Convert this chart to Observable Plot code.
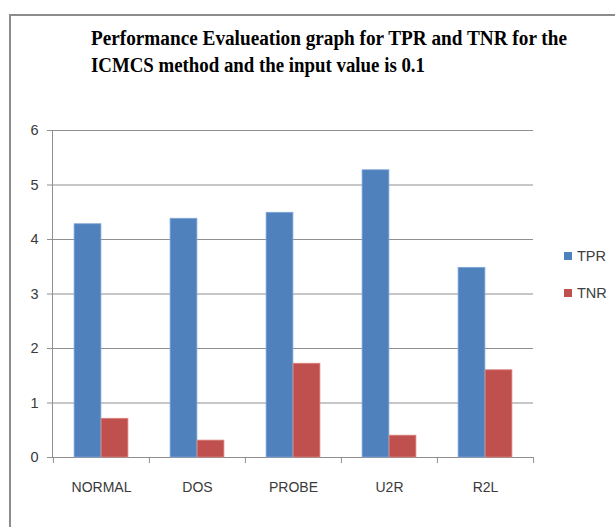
<!DOCTYPE html>
<html>
<head>
<meta charset="utf-8">
<script src="https://cdn.jsdelivr.net/npm/d3@7"></script>
<script src="https://cdn.jsdelivr.net/npm/@observablehq/plot@0.6"></script>
<style>
  html, body { margin: 0; padding: 0; background: #fff; }
  #wrap { position: relative; width: 615px; height: 527px; overflow: hidden; }
  #frame { position: absolute; left: 9px; top: 14px; width: 700px; height: 600px; border: 2px solid #8c8c8c; box-sizing: border-box; }
  #title { position: absolute; left: 91px; top: 25px; font: bold 20.5px "Liberation Serif", "Times New Roman", serif; line-height: 27px; color: #000; white-space: nowrap; }
  #title div { transform-origin: 0 0; width: max-content; }
  #legend { position: absolute; left: 564px; top: 246px; font: 14.5px "Liberation Sans", Arial, sans-serif; color: #404040; }
  #legend div { display: flex; align-items: center; height: 20px; margin-bottom: 17px; }
  #legend span.sw { display: inline-block; width: 8px; height: 8px; margin-right: 5px; }
  #chart { position: absolute; left: 0; top: 0; }
</style>
</head>
<body>
<div id="wrap">
  <div id="frame"></div>
  <div id="chart"></div>
  <div id="title"><div id="t1">Performance Evalueation graph for TPR and TNR for the</div><div id="t2">ICMCS method and the input value is 0.1</div></div>
  <div id="legend"></div>
</div>
<script>
const categories = ["NORMAL", "DOS", "PROBE", "U2R", "R2L"];
const tpr = [4.28, 4.38, 4.49, 5.27, 3.48];
const tnr = [0.71, 0.31, 1.72, 0.40, 1.60];
const seriesNames = ["TPR", "TNR"];
const seriesColors = ["#4F81BD", "#C0504D"];
const yTicks = [0, 1, 2, 3, 4, 5, 6];

const W = 615, H = 527;
const mL = 52, mR = 82, mT = 130, mB = 70;
const band = (W - mL - mR) / categories.length;
const barW = 27;
const outer = (band - 2 * barW) / 2;

const rowsTPR = categories.map((c, i) => ({category: c, value: tpr[i]}));
const rowsTNR = categories.map((c, i) => ({category: c, value: tnr[i]}));
const lastCat = [categories[categories.length - 1]];

const plot = Plot.plot({
  width: W, height: H,
  marginLeft: mL, marginRight: mR, marginTop: mT, marginBottom: mB,
  style: {background: "transparent", fontFamily: "'Liberation Sans', Arial, sans-serif"},
  x: {domain: categories, padding: 0, label: null},
  y: {domain: [0, 6], label: null},
  marks: [
    Plot.ruleY(yTicks, {y: d => d, stroke: "#8f8f8f", strokeWidth: 1}),
    Plot.frame({anchor: "left", stroke: "#8f8f8f", strokeWidth: 1}),
    Plot.barY(rowsTPR, {x: "category", y: "value", fill: seriesColors[0], stroke: "#7fa6d6", strokeWidth: 0.8, insetLeft: outer, insetRight: band - outer - barW}),
    Plot.barY(rowsTNR, {x: "category", y: "value", fill: seriesColors[1], stroke: "#d9827f", strokeWidth: 0.8, insetLeft: outer + barW, insetRight: outer}),
    Plot.ruleX(categories, {x: d => d, y1: 0, y2: 0, insetBottom: -6, dx: -band / 2, stroke: "#8f8f8f"}),
    Plot.ruleX(lastCat, {x: d => d, y1: 0, y2: 0, insetBottom: -6, dx: band / 2, stroke: "#8f8f8f"}),
    Plot.axisY({ticks: yTicks, tickSize: 5, tickPadding: 9, stroke: "#8f8f8f", fill: "#3a3a3a", fontSize: 14.5, tickFormat: d => String(d), label: null}),
    Plot.axisX({tickSize: 0, tickPadding: 25, fill: "#3a3a3a", fontSize: 14, label: null})
  ]
});
document.getElementById("chart").appendChild(plot);

// fit each title line to the reference widths
[["t1", 476], ["t2", 334]].forEach(([id, target]) => {
  const el = document.getElementById(id);
  const w = el.getBoundingClientRect().width;
  el.style.transform = `scaleX(${target / w})`;
});

const lg = document.getElementById("legend");
seriesNames.forEach((n, i) => {
  const row = document.createElement("div");
  const sw = document.createElement("span");
  sw.className = "sw"; sw.style.background = seriesColors[i];
  row.appendChild(sw);
  row.appendChild(document.createTextNode(n));
  lg.appendChild(row);
});
</script>
</body>
</html>
